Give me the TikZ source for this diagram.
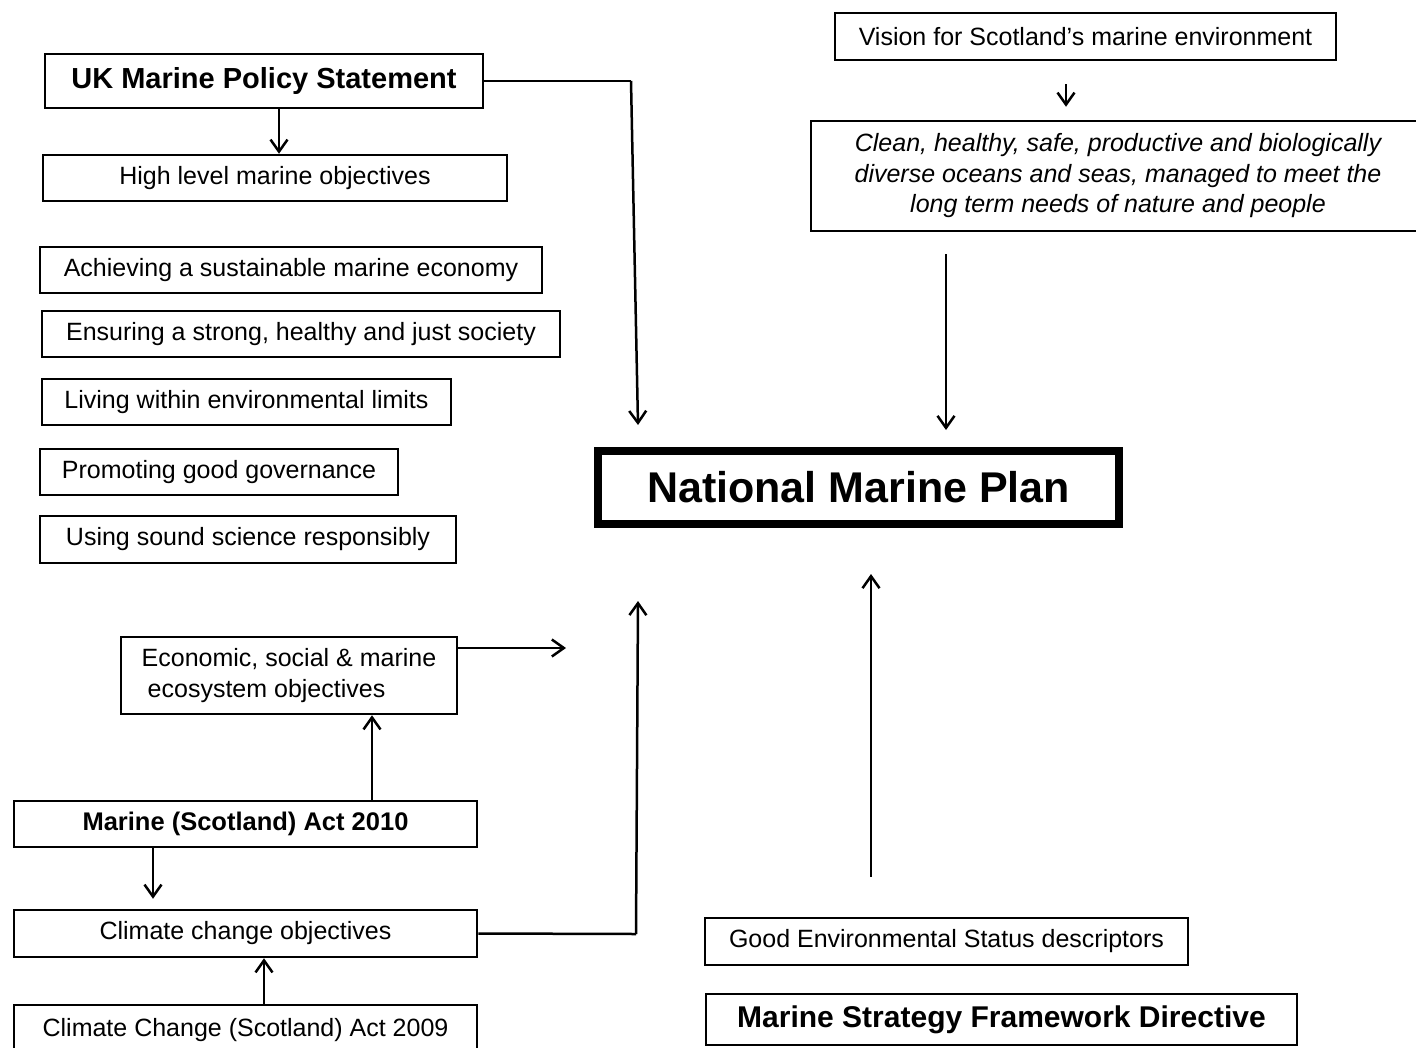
\documentclass[tikz,border=0pt]{standalone}
\usepackage{fontspec}
\setmainfont{Liberation Sans}
\usetikzlibrary{arrows.meta}
\begin{document}
\begin{tikzpicture}[x=1pt,y=-1pt,
  box/.style={draw, line width=2.5pt, inner sep=0pt, font=\fontsize{25}{30.5}\selectfont},
  boldbox/.style={box, font=\fontsize{29}{34}\selectfont\bfseries},
  arr/.style={line width=2.5pt, -{Straight Barb[length=12pt,width=17pt]}},
  ln/.style={line width=2.5pt}]
\useasboundingbox[fill=white] (0,0) rectangle (1416,1047);
% left column
\node[boldbox, minimum width=438pt, minimum height=54pt] (uk) at (264,81) {UK Marine Policy Statement};
\node[box, minimum width=464pt, minimum height=46pt] (high) at (275,178) {\raisebox{-1.5pt}{High level marine objectives}};
\node[box, minimum width=502pt, minimum height=46pt] (ach) at (291,270) {\raisebox{-1.5pt}{Achieving a sustainable marine economy}};
\node[box, minimum width=518pt, minimum height=46pt] (ens) at (301,334) {\raisebox{-1.5pt}{Ensuring a strong, healthy and just society}};
\node[box, minimum width=409pt, minimum height=46pt] (liv) at (246.5,402) {\raisebox{-1.5pt}{Living within environmental limits}};
\node[box, minimum width=358pt, minimum height=46pt] (pro) at (219,472) {\raisebox{-1.5pt}{Promoting good governance}};
\node[box, minimum width=416pt, minimum height=47pt] (use) at (248,539.5) {\raisebox{-1.5pt}{Using sound science responsibly}};
\node[box, minimum width=336pt, minimum height=77pt, align=left] (eco) at (289,675.5) {Economic, social \& marine\\\hspace*{6pt}ecosystem objectives};
\node[box, minimum width=463pt, minimum height=46pt, font=\fontsize{25.5}{30}\selectfont\bfseries] (msa) at (245.5,824) {\raisebox{-1.5pt}{Marine (Scotland) Act 2010}};
\node[box, minimum width=463pt, minimum height=47pt] (cco) at (245.5,933.5) {\raisebox{-1.5pt}{Climate change objectives}};
\node[box, minimum width=463pt, minimum height=50pt] (cca) at (245.5,1030) {\raisebox{-1.5pt}{Climate Change (Scotland) Act 2009}};
% right column
\node[box, minimum width=501pt, minimum height=47pt] (vis) at (1085.5,36.5) {\raisebox{-1.5pt}{Vision for Scotland’s marine environment}};
\node[box, minimum width=614pt, minimum height=110pt, align=center, font=\fontsize{25}{30.5}\selectfont\itshape] (clean) at (1118,176) {Clean, healthy, safe, productive and biologically\\diverse oceans and seas, managed to meet the\\long term needs of nature and people};
\node[draw, line width=8pt, inner sep=0pt, minimum width=521pt, minimum height=73pt, font=\fontsize{43}{50}\selectfont\bfseries] (nmp) at (858.5,487.5) {National Marine Plan};
\node[box, minimum width=483pt, minimum height=47pt] (ges) at (946.5,941.5) {\raisebox{-1.5pt}{Good Environmental Status descriptors}};
\node[boldbox, minimum width=591pt, minimum height=51pt, font=\fontsize{30}{34}\selectfont\bfseries] (msfd) at (1001.5,1019.5) {Marine Strategy Framework Directive};
% connectors
\coordinate (k1) at (631,81);
\coordinate (k2) at (638,425);
\coordinate (k3) at (636,934);
\coordinate (k4) at (638,601);
\coordinate (e1) at (566,648);
\draw[arr] ([xshift=15pt]uk.south) -- ([xshift=4pt]high.north);
\draw[ln] (uk.east) -- (k1);
\draw[arr] (k1) -- (k2);
\draw[arr, shorten <=23pt, shorten >=13pt] ([xshift=-19.5pt]vis.south) -- ([xshift=-52pt]clean.north);
\draw[arr, shorten <=22pt, shorten >=17pt] ([xshift=-172pt]clean.south) -- ([xshift=87.5pt]nmp.north);
\draw[arr] (eco.east |- e1) -- (e1);
\draw[arr] ([xshift=126.5pt]msa.north) -- ([xshift=83pt]eco.south);
\draw[arr, shorten >=10pt] ([xshift=-92.5pt]msa.south) -- ([xshift=-92.5pt]cco.north);
\draw[arr] ([xshift=18.5pt]cca.north) -- ([xshift=18.5pt]cco.south);
\draw[ln] (cco.east) -- (k3);
\draw[arr] (k3) -- (k4);
\draw[arr, shorten <=40pt, shorten >=46pt] ([xshift=-75.5pt]ges.north) -- ([xshift=12.5pt]nmp.south);
\end{tikzpicture}
\end{document}
